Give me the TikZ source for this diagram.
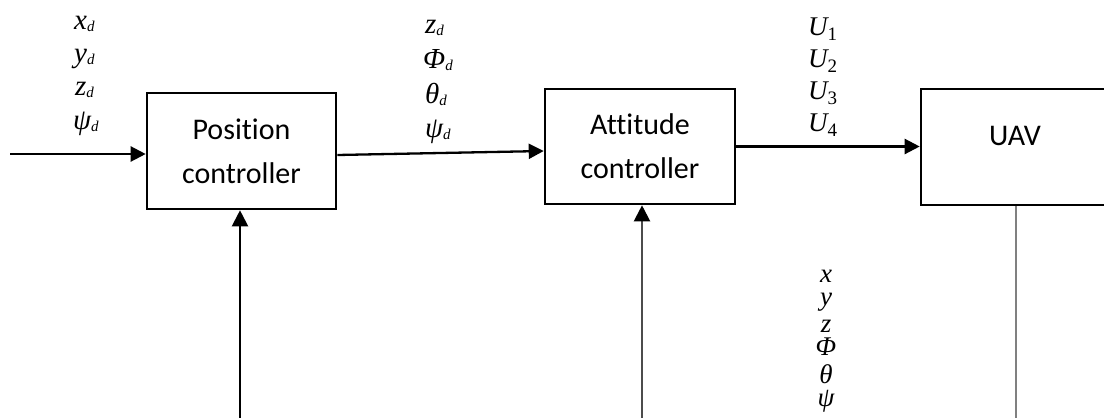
\documentclass[tikz,border=0pt]{standalone}
\usepackage{fontspec}
\setmainfont{Liberation Serif}
\newfontfamily\boxfont[Ligatures=NoCommon]{Carlito}
\usetikzlibrary{arrows.meta,calc}

% small italic subscript d and upright numeric subscript
\newcommand{\subd}{\raisebox{-2.5pt}{\fontsize{15}{15}\selectfont\itshape d}}
\newcommand{\subn}[1]{\raisebox{-5pt}{\fontsize{19}{19}\selectfont\upshape #1}}

\tikzset{
  block/.style={draw, line width=2.6pt, minimum width=189pt, minimum height=116pt,
    inner sep=0pt, align=center, font=\boxfont\fontsize{30}{44}\selectfont},
  sig/.style={line width=2.3pt, -{Triangle[length=15pt,width=15pt]}},
  fb/.style={line width=2.1pt, -{Triangle[length=16pt,width=16pt,color=black]}},
  var/.style={inner sep=0pt, anchor=base west, font=\fontsize{29}{29}\selectfont},
  state/.style={inner sep=0pt, anchor=base, font=\fontsize{27}{27}\selectfont}
}

\begin{document}
\begin{tikzpicture}[x=1pt, y=-1pt]
  \useasboundingbox (0,0) rectangle (1104,418);

  % blocks
  \node[block] (pos) at (241.5,151) {Position\\controller};
  \node[block, minimum width=190pt, minimum height=115pt] (att) at (640,146.5) {Attitude\\controller};
  \node[block, minimum width=190pt] (uav) at (1016,147) {};
  \node[inner sep=0pt, anchor=base, font=\boxfont\fontsize{30}{30}\selectfont] (uavtext) at (1015,145) {UAV};

  % reference inputs
  \node[var] (xd) at (74,29) {\itshape x\subd};
  \node[var] (yd) at (74,62) {\itshape y\subd};
  \node[var] (zd) at (75,95) {\itshape z\subd};
  \node[var] (psid) at (73,129) {\itshape ψ\subd};

  % desired attitude
  \node[var] (zd2) at (425,33) {\itshape z\subd};
  \node[var] (phid) at (423,68) {\itshape Φ\subd};
  \node[var] (thetad) at (425,103) {\itshape θ\subd};
  \node[var] (psid2) at (425,137) {\itshape ψ\subd};

  % control inputs
  \node[var, font=\fontsize{27}{27}\selectfont] (u1) at (808,35) {\itshape U\subn{1}};
  \node[var, font=\fontsize{27}{27}\selectfont] (u2) at (808,67) {\itshape U\subn{2}};
  \node[var, font=\fontsize{27}{27}\selectfont] (u3) at (808,99) {\itshape U\subn{3}};
  \node[var, font=\fontsize{27}{27}\selectfont] (u4) at (808,131) {\itshape U\subn{4}};

  % measured states
  \node[state] (sx) at (826,282) {\itshape x};
  \node[state] (sy) at (826,305) {\itshape y};
  \node[state] (sz) at (826,332) {\itshape z};
  \node[state] (sphi) at (826,355) {\itshape Φ};
  \node[state] (stheta) at (826,383) {\itshape θ};
  \node[state] (spsi) at (826,406) {\itshape ψ};

  % free ends
  \coordinate (in) at (10,154);
  \coordinate (fb1) at (240,420);
  \coordinate (fb2) at (642,420);
  \coordinate (bot) at (1016,418);

  % connectors
  \draw[sig] (in) -- (in -| pos.west);
  \draw[sig] ($(pos.east)+(0,4)$) -- ($(att.west)+(0,4.5)$);
  \draw[sig] (att.east) -- (att.east -| uav.west);
  \draw[fb] (fb1) -- (fb1 |- pos.south);
  \draw[fb, draw=black!70] (fb2) -- (fb2 |- att.south);
  \draw[line width=1.4pt, draw=black!50] (uav.south) -- (bot);
\end{tikzpicture}
\end{document}
